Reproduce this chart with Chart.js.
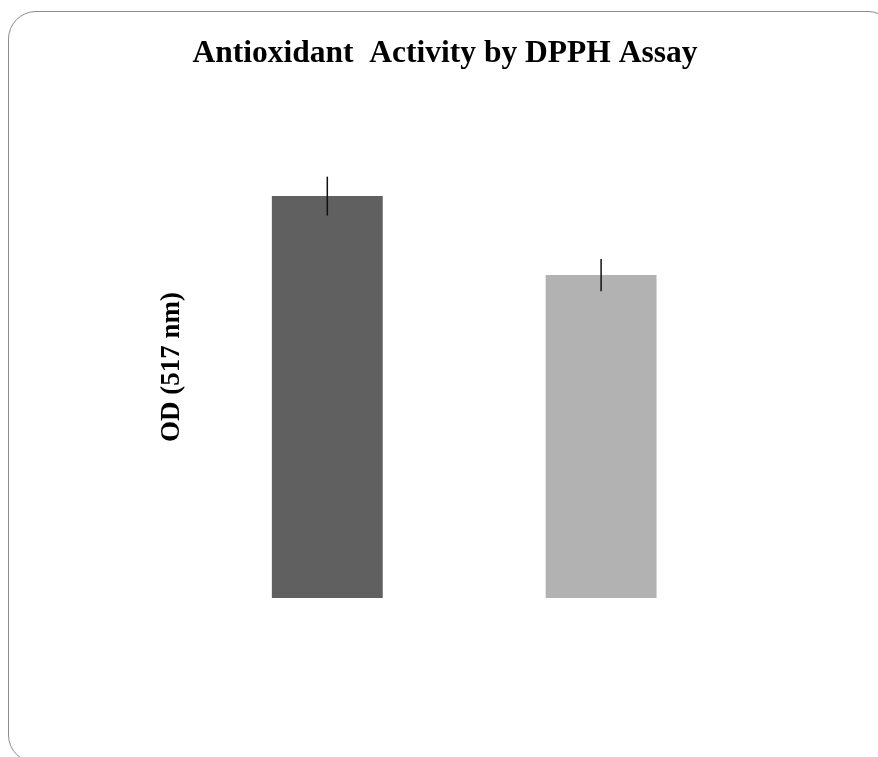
<!DOCTYPE html>
<html>
<head>
<meta charset="utf-8">
<script src="https://cdn.jsdelivr.net/npm/chart.js@4"></script>
<style>
  html, body { margin: 0; padding: 0; background: #fff; overflow: hidden; }
  #wrap { position: relative; width: 878px; height: 757px; overflow: hidden; }
  #frame {
    position: absolute; left: 8px; top: 11px; width: 888px; height: 752px;
    border: 1.5px solid #8c8c8c; border-radius: 28px; box-sizing: border-box;
  }
  #chart { position: absolute; left: 0; top: 0; }
</style>
</head>
<body>
<div id="wrap">
  <div id="frame"></div>
  <canvas id="chart" width="878" height="757"></canvas>
</div>
<script>
// data
const kategori   = ['Sample A', 'Sample B'];
const nilaiOD    = [0.870, 0.699];
const errorOD    = [0.042, 0.035];
const warnaBar   = ['#606060', '#b2b2b2'];

const SERIF = '"Liberation Serif", "Times New Roman", serif';

// error bar kecil di atas tiap bar
const errorBarPlugin = {
  id: 'errorBars',
  afterDatasetsDraw(chart) {
    const { ctx, scales: { y } } = chart;
    const meta = chart.getDatasetMeta(0);
    ctx.save();
    ctx.strokeStyle = '#111';
    ctx.lineWidth = 1.5;
    meta.data.forEach((bar, i) => {
      const top = y.getPixelForValue(nilaiOD[i] + errorOD[i]);
      const bot = y.getPixelForValue(nilaiOD[i] - errorOD[i]);
      ctx.beginPath();
      ctx.moveTo(bar.x, top);
      ctx.lineTo(bar.x, bot);
      ctx.stroke();
    });
    ctx.restore();
  }
};

new Chart(document.getElementById('chart').getContext('2d'), {
  type: 'bar',
  data: {
    labels: kategori,
    datasets: [{
      data: nilaiOD,
      backgroundColor: warnaBar,
      borderWidth: 0,
      categoryPercentage: 1,
      barPercentage: 0.405
    }]
  },
  options: {
    responsive: false,
    animation: false,
    layout: { padding: { left: 152, right: 140, top: 0, bottom: 159 } },
    plugins: {
      legend: { display: false },
      tooltip: { enabled: false },
      title: {
        display: true,
        text: 'Antioxidant  Activity by DPPH Assay',
        color: '#000',
        font: { family: SERIF, size: 31.5, weight: 'bold' },
        padding: { top: 35, bottom: 63.2 }
      }
    },
    scales: {
      x: { display: false },
      y: {
        min: 0, max: 1,
        ticks: { display: false },
        grid: { display: false, drawTicks: false },
        border: { display: false },
        title: {
          display: true,
          text: 'OD (517 nm)',
          color: '#000',
          font: { family: SERIF, size: 27, weight: 'bold' },
          padding: { top: 4, bottom: 2 }
        }
      }
    }
  },
  plugins: [errorBarPlugin]
});
</script>
</body>
</html>
